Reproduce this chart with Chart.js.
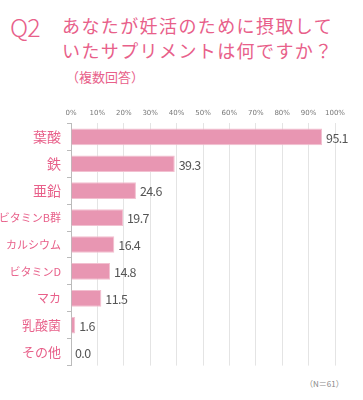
<!DOCTYPE html>
<html><head><meta charset="utf-8">
<script src="https://cdn.jsdelivr.net/npm/chart.js@4/dist/chart.umd.min.js"></script>
<style>
html,body{margin:0;padding:0;background:#fff;width:363px;height:400px;overflow:hidden;font-family:"Noto Sans CJK JP",sans-serif;}
#q{position:absolute;left:10px;top:11px;font-size:25px;line-height:30px;color:#e8608a;font-family:"Noto Sans CJK JP";font-weight:300;letter-spacing:-1px;}
#t{position:absolute;left:62px;top:13px;font-size:18px;line-height:24.5px;color:#e8608a;font-weight:400;letter-spacing:1.4px;}
#s{position:absolute;left:66px;top:67px;font-size:13px;color:#e8608a;}
#n{position:absolute;left:305px;top:378px;font-size:8px;color:#888;}
#wrap{position:absolute;left:0;top:95px;width:363px;height:285px;}
</style></head>
<body>
<div id="q">Q2</div>
<div id="t">あなたが妊活のために摂取して<br>いたサプリメントは何ですか？</div>
<div id="s">（複数回答）</div>
<div id="n">（N＝61）</div>
<div id="wrap"><canvas id="c" width="363" height="285"></canvas></div>
<script>
const categories = ['葉酸','鉄','亜鉛','ビタミンB群','カルシウム','ビタミンD','マカ','乳酸菌','その他'];
const values = [95.1,39.3,24.6,19.7,16.4,14.8,11.5,1.6,0.0];
const labelSizes = [14,14,14,11,11,11,12,13,13];
const tickValues = [0,10,20,30,40,50,60,70,80,90,100];

const valueLabels = {
  id:'valueLabels',
  afterDatasetsDraw(chart){
    const ctx = chart.ctx;
    const meta = chart.getDatasetMeta(0);
    ctx.save();
    ctx.fillStyle = '#555';
    ctx.font = '12.5px "Noto Sans CJK JP"';
    if ('letterSpacing' in ctx) ctx.letterSpacing = '-0.6px';
    ctx.textBaseline = 'middle';
    ctx.textAlign = 'left';
    meta.data.forEach((bar,i)=>{
      ctx.fillText(values[i].toFixed(1), bar.x + 4, bar.y + 1);
    });
    ctx.restore();
  }
};

new Chart(document.getElementById('c'),{
  type:'bar',
  data:{labels:categories,datasets:[{data:values,backgroundColor:'#e896b2',borderColor:'#f2c0d0',borderWidth:1,borderSkipped:'left',categoryPercentage:0.62,barPercentage:1}]},
  options:{
    indexAxis:'y',
    responsive:false,
    animation:false,
    layout:{padding:{left:0,right:28,top:8,bottom:6}},
    plugins:{legend:{display:false},tooltip:{enabled:false}},
    scales:{
      x:{
        position:'top',min:0,max:100,
        afterBuildTicks(axis){axis.ticks = tickValues.map(v=>({value:v}));},
        grid:{color:'#e4e4e4',lineWidth:1,drawTicks:false},
        border:{display:false},
        ticks:{callback:v=>v+'%',font:{size:7,family:'"DejaVu Sans"'},color:'#777',padding:6,maxRotation:0,autoSkip:false}
      },
      y:{
        grid:{display:true,drawOnChartArea:false,drawTicks:true,tickLength:4,color:'#bbb',offset:true},
        border:{display:true,color:'#bbb'},
        ticks:{color:'#e8608a',padding:6,font:ctx=>({size:labelSizes[ctx.index]||12,family:'"Noto Sans CJK JP"'})},
        afterFit(axis){axis.width = 71;}
      }
    }
  },
  plugins:[valueLabels]
});
</script>
</body></html>
